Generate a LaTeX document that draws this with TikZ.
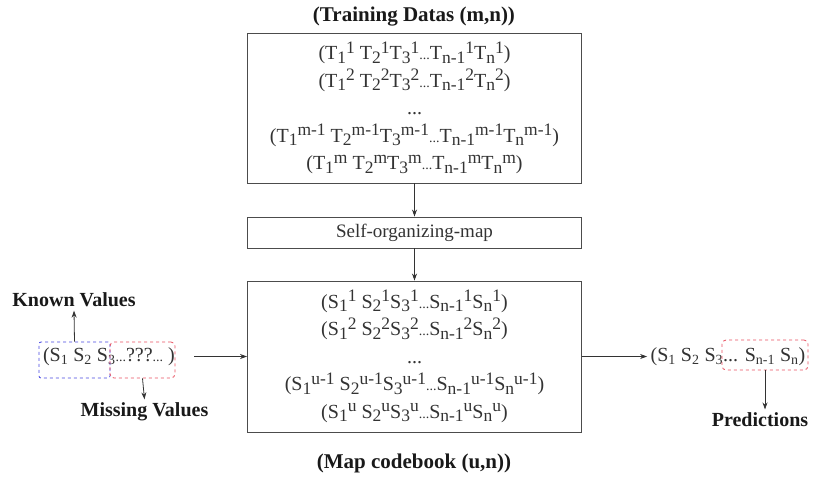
\documentclass[tikz,border=0pt]{standalone}
\usepackage{fontspec}
\setmainfont{Liberation Serif}
\usetikzlibrary{arrows.meta, positioning}

% one entry of a vector: letter, index, row
\newcommand{\ent}[3]{#1\raisebox{-0.35ex}{\fontsize{17.5}{17.5}\selectfont #2}\raisebox{0.7ex}{\fontsize{17.5}{17.5}\selectfont #3}}
\newcommand{\gap}{{\fontsize{14}{14}\selectfont ...}}
\definecolor{knownblue}{RGB}{70,70,225}
\definecolor{missred}{RGB}{232,80,95}

\begin{document}
\begin{tikzpicture}[x=1pt, y=-1pt,
    box/.style={draw=black!70, line width=0.9pt, minimum width=334pt, inner sep=0pt},
    hdr/.style={font=\fontsize{21}{24}\selectfont\bfseries, text=black!90},
    rows/.style={align=center, font=\fontsize{20}{27.5}\selectfont, text=black!80},
    flow/.style={-{Stealth[length=7pt, width=5pt]}, draw=black!80, line width=0.8pt},
    known/.style={draw=knownblue, dashed, line width=0.8pt, rounded corners=2pt, inner sep=0pt},
    miss/.style={draw=missred, dashed, line width=0.8pt, rounded corners=4pt, inner sep=0pt}]
  \useasboundingbox (0,0) rectangle (817,480);

  \node (trainTitle) [hdr] at (414,17) {(Training Datas (m,n))};
  \node (train) [box, rows, minimum height=150pt] at (414.5,108) {%
    \ent{(T}{1}{1} \ent{T}{2}{1}\ent{T}{3}{1}\gap\ent{T}{n-1}{1}\ent{T}{n}{1})\\
    \ent{(T}{1}{2} \ent{T}{2}{2}\ent{T}{3}{2}\gap\ent{T}{n-1}{2}\ent{T}{n}{2})\\
    ...\\
    \ent{(T}{1}{m-1} \ent{T}{2}{m-1}\ent{T}{3}{m-1}\gap\ent{T}{n-1}{m-1}\ent{T}{n}{m-1})\\
    \ent{(T}{1}{m} \ent{T}{2}{m}\ent{T}{3}{m}\gap\ent{T}{n-1}{m}\ent{T}{n}{m})};

  \node (som) [box, minimum height=31pt, font=\fontsize{19}{22}\selectfont, text=black!80]
    at (414.5,232.5) {Self-organizing-map};

  \node (codebook) [box, rows, minimum height=151pt] at (414.5,356.5) {%
    \ent{(S}{1}{1} \ent{S}{2}{1}\ent{S}{3}{1}\gap\ent{S}{n-1}{1}\ent{S}{n}{1})\\
    \ent{(S}{1}{2} \ent{S}{2}{2}\ent{S}{3}{2}\gap\ent{S}{n-1}{2}\ent{S}{n}{2})\\
    ...\\
    \ent{(S}{1}{u-1} \ent{S}{2}{u-1}\ent{S}{3}{u-1}\gap\ent{S}{n-1}{u-1}\ent{S}{n}{u-1})\\
    \ent{(S}{1}{u} \ent{S}{2}{u}\ent{S}{3}{u}\gap\ent{S}{n-1}{u}\ent{S}{n}{u})};
  \node (codeTitle) [hdr] at (414,463) {(Map codebook (u,n))};

  % input vector with known / missing parts
  \node (input) [font=\fontsize{20}{22}\selectfont, text=black!80] at (109,356.5)
    {(S\textsubscript{1} S\textsubscript{2} S\textsubscript{3}\gap???\gap\ )};
  \node (knownbox) [known, minimum width=71pt, minimum height=36pt] at (74.5,360) {};
  \node (missbox) [miss, minimum width=65pt, minimum height=36pt] at (142.5,360) {};
  \node (knownLbl) [hdr, font=\fontsize{20}{24}\selectfont\bfseries] at (74,300) {Known Values};
  \node (missLbl) [hdr, font=\fontsize{20}{24}\selectfont\bfseries] at (144.5,412) {Missing Values};

  % predicted vector
  \node (output) [font=\fontsize{20}{22}\selectfont, text=black!80] at (728,356.5)
    {(S\textsubscript{1} S\textsubscript{2} S\textsubscript{3}... S\textsubscript{n-1} S\textsubscript{n})};
  \node (predbox) [miss, minimum width=86pt, minimum height=30pt] at (765,355) {};
  \node (predLbl) [hdr, font=\fontsize{20}{24}\selectfont\bfseries] at (760,420) {Predictions};

  \draw [flow] (train) -- (som);
  \draw [flow] (som) -- (codebook);
  \draw [flow, shorten <=16pt] (input) -- (codebook);
  \draw [flow] (codebook) -- (output);
  \draw [flow] (knownbox.north) -- (knownLbl.south);
  \draw [flow] (missbox.south) -- (missLbl.north);
  \draw [flow] (predbox.south) -- (predbox.south |- predLbl.north);
\end{tikzpicture}
\end{document}
